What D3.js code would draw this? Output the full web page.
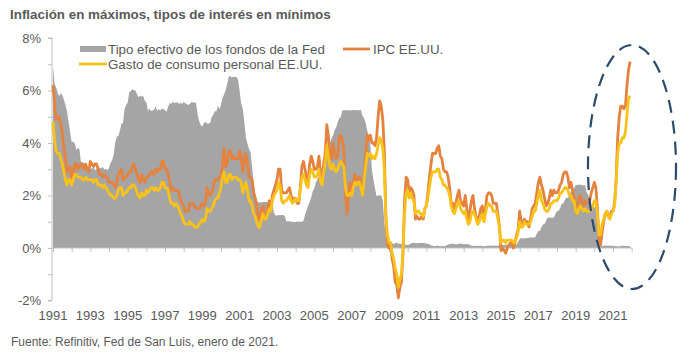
<!DOCTYPE html>
<html><head><meta charset="utf-8">
<script src="https://cdn.jsdelivr.net/npm/d3@7"></script>
<style>
html,body{margin:0;padding:0;background:#fff;}
svg{display:block;font-family:"Liberation Sans",Arial,sans-serif;}
</style></head><body>
<svg id="c" width="699" height="355"></svg>
<script>
const title = "Inflación en máximos, tipos de interés en mínimos";
const source = "Fuente: Refinitiv, Fed de San Luis, enero de 2021.";
const seriesNames = ["Tipo efectivo de los fondos de la Fed", "IPC EE.UU.", "Gasto de consumo personal EE.UU."];
const startYear = 1991;
const xTickLabels = [1991,1993,1995,1997,1999,2001,2003,2005,2007,2009,2011,2013,2015,2017,2019,2021];
const yTicks = [-2,-1,0,1,2,3,4,5,6,7,8];
const yTickLabels = [-2,0,2,4,6,8];

// Monthly values, Jan 1991 - Dec 2021 (%)
const fedFunds = [
6.91,6.25,6.12,5.91,5.78,5.90,5.82,5.66,5.45,5.21,4.81,4.43,
4.03,4.06,3.98,3.73,3.82,3.76,3.25,3.30,3.22,3.10,3.09,2.92,
3.02,3.03,3.07,2.96,3.00,3.04,3.06,3.03,3.09,2.99,3.02,2.96,
3.05,3.25,3.34,3.56,4.01,4.25,4.26,4.47,4.73,4.76,5.29,5.45,
5.53,5.92,5.98,6.05,6.01,6.00,5.85,5.74,5.80,5.76,5.80,5.60,
5.56,5.22,5.31,5.22,5.24,5.27,5.40,5.22,5.30,5.24,5.31,5.29,
5.25,5.19,5.39,5.51,5.50,5.56,5.52,5.54,5.54,5.50,5.52,5.50,
5.56,5.51,5.49,5.45,5.49,5.56,5.54,5.55,5.51,5.07,4.83,4.68,
4.63,4.76,4.81,4.74,4.74,4.76,4.99,5.07,5.22,5.20,5.42,5.30,
5.45,5.73,5.85,6.02,6.27,6.53,6.54,6.50,6.52,6.51,6.51,6.40,
5.98,5.49,5.31,4.80,4.21,3.97,3.77,3.65,3.07,2.49,2.09,1.82,
1.73,1.74,1.73,1.75,1.75,1.75,1.73,1.74,1.75,1.75,1.34,1.24,
1.24,1.26,1.25,1.26,1.26,1.22,1.01,1.03,1.01,1.01,1.00,0.98,
1.00,1.01,1.00,1.00,1.00,1.03,1.26,1.43,1.61,1.76,1.93,2.16,
2.28,2.50,2.63,2.79,3.00,3.04,3.26,3.50,3.62,3.78,4.00,4.16,
4.29,4.49,4.59,4.79,4.94,4.99,5.24,5.25,5.25,5.25,5.25,5.24,
5.25,5.26,5.26,5.25,5.25,5.25,5.26,5.02,4.94,4.76,4.49,4.24,
3.94,2.98,2.61,2.28,1.98,2.00,2.01,2.00,1.81,0.97,0.39,0.16,
0.15,0.22,0.18,0.15,0.18,0.21,0.16,0.16,0.15,0.12,0.12,0.12,
0.11,0.13,0.16,0.20,0.20,0.18,0.18,0.19,0.19,0.19,0.19,0.18,
0.17,0.16,0.14,0.10,0.09,0.09,0.07,0.10,0.08,0.07,0.08,0.07,
0.08,0.10,0.13,0.14,0.16,0.16,0.16,0.13,0.14,0.16,0.16,0.16,
0.14,0.15,0.14,0.15,0.11,0.09,0.09,0.08,0.08,0.09,0.08,0.09,
0.07,0.07,0.08,0.09,0.09,0.10,0.09,0.09,0.09,0.09,0.09,0.12,
0.11,0.11,0.11,0.12,0.12,0.13,0.13,0.14,0.14,0.12,0.12,0.24,
0.34,0.38,0.36,0.37,0.37,0.38,0.39,0.40,0.40,0.40,0.41,0.54,
0.65,0.66,0.79,0.90,0.91,1.04,1.15,1.16,1.15,1.15,1.16,1.30,
1.41,1.42,1.51,1.69,1.70,1.82,1.91,1.91,1.95,2.19,2.20,2.27,
2.40,2.40,2.41,2.42,2.39,2.38,2.40,2.13,2.04,1.83,1.55,1.55,
1.55,1.58,0.65,0.05,0.05,0.08,0.09,0.10,0.09,0.09,0.09,0.09,
0.09,0.08,0.07,0.07,0.06,0.08,0.10,0.09,0.08,0.08,0.08,0.08];

const cpi = [
6.2,5.5,4.9,4.9,5.0,4.7,4.4,3.8,3.4,2.9,3.0,3.1,
2.6,2.8,3.2,3.2,3.0,3.1,3.2,3.1,3.0,3.2,3.0,2.9,
3.3,3.2,3.1,3.2,3.2,3.0,2.8,2.8,2.7,2.8,2.7,2.7,
2.5,2.5,2.5,2.4,2.3,2.5,2.8,2.9,3.0,2.6,2.7,2.7,
2.8,2.9,2.9,3.1,3.2,3.0,2.8,2.6,2.5,2.8,2.6,2.5,
2.7,2.7,2.8,2.9,2.9,2.8,3.0,2.9,3.0,3.0,3.3,3.3,
3.0,3.0,2.8,2.5,2.2,2.3,2.2,2.2,2.2,2.1,1.8,1.7,
1.6,1.4,1.4,1.4,1.7,1.7,1.7,1.6,1.5,1.5,1.5,1.6,
1.7,1.6,1.7,2.3,2.1,2.0,2.1,2.3,2.6,2.6,2.6,2.7,
2.7,3.2,3.8,3.1,3.2,3.7,3.7,3.4,3.5,3.4,3.4,3.4,
3.7,3.5,2.9,3.3,3.6,3.2,2.7,2.7,2.6,2.1,1.9,1.6,
1.1,1.1,1.5,1.6,1.2,1.1,1.5,1.8,1.5,2.0,2.2,2.4,
2.6,3.0,3.0,2.2,2.1,2.1,2.1,2.2,2.3,2.0,1.8,1.9,
1.9,1.7,1.7,2.3,3.1,3.3,3.0,2.7,2.5,3.2,3.5,3.3,
3.0,3.0,3.1,3.5,2.8,2.5,3.2,3.6,4.7,4.3,3.5,3.4,
4.0,3.6,3.4,3.5,4.2,4.3,4.1,3.8,2.1,1.3,2.0,2.5,
2.1,2.4,2.8,2.6,2.7,2.7,2.4,2.0,2.8,3.5,4.3,4.1,
4.3,4.0,4.0,3.9,4.2,5.0,5.6,5.4,4.9,3.7,1.1,0.1,
0.0,0.2,-0.4,-0.7,-1.3,-1.4,-1.9,-1.5,-1.3,-0.2,1.8,2.7,
2.6,2.1,2.3,2.2,2.0,1.1,1.2,1.1,1.1,1.2,1.1,1.5,
1.6,2.1,2.7,3.2,3.6,3.6,3.6,3.8,3.9,3.5,3.4,3.0,
2.9,2.9,2.7,2.3,1.7,1.7,1.4,1.7,2.0,2.2,1.8,1.7,
1.6,2.0,1.5,1.1,1.4,1.8,2.0,1.5,1.2,1.0,1.2,1.5,
1.6,1.1,1.5,2.0,2.1,2.1,2.0,1.7,1.7,1.7,1.3,0.8,
-0.1,0.0,-0.1,-0.2,0.0,0.1,0.2,0.2,0.0,0.2,0.5,0.7,
1.4,1.0,0.9,1.1,1.0,1.0,0.8,1.1,1.5,1.6,1.7,2.1,
2.5,2.7,2.4,2.2,1.9,1.6,1.7,1.9,2.2,2.0,2.2,2.1,
2.1,2.2,2.4,2.5,2.8,2.9,2.9,2.7,2.3,2.5,2.2,1.9,
1.6,1.5,1.9,2.0,1.8,1.6,1.8,1.7,1.7,1.8,2.1,2.3,
2.5,2.3,1.5,0.3,0.1,0.6,1.0,1.3,1.4,1.2,1.2,1.4,
1.4,1.7,2.6,4.2,5.0,5.4,5.4,5.3,5.4,6.2,6.8,7.1];

const pce = [
4.8,4.1,3.7,3.6,3.6,3.4,3.2,2.9,2.6,2.4,2.6,2.6,
2.4,2.6,2.8,2.8,2.7,2.7,2.7,2.6,2.6,2.7,2.6,2.6,
2.6,2.6,2.5,2.6,2.6,2.4,2.4,2.4,2.3,2.4,2.3,2.2,
2.1,2.0,2.0,1.9,1.9,2.0,2.2,2.3,2.3,2.0,2.1,2.1,
2.2,2.3,2.3,2.4,2.4,2.3,2.1,2.0,1.9,2.1,2.0,2.0,
2.2,2.1,2.2,2.3,2.3,2.2,2.3,2.2,2.2,2.3,2.5,2.5,
2.3,2.3,2.2,1.9,1.7,1.7,1.6,1.7,1.6,1.5,1.3,1.2,
1.0,0.9,0.9,0.9,1.0,0.9,0.9,0.8,0.8,0.8,0.9,1.0,
1.1,1.0,1.1,1.5,1.4,1.4,1.5,1.6,1.8,1.9,1.9,2.1,
2.3,2.7,2.9,2.5,2.5,2.8,2.8,2.6,2.7,2.7,2.7,2.6,
2.6,2.5,2.1,2.3,2.5,2.2,1.8,1.8,1.6,1.3,1.2,1.0,
0.8,0.8,1.1,1.3,1.1,1.1,1.3,1.5,1.4,1.8,2.0,2.1,
2.2,2.5,2.4,1.8,1.7,1.8,1.8,1.9,2.0,1.8,1.7,1.8,
1.9,1.8,1.8,2.2,2.7,2.8,2.6,2.4,2.3,2.8,3.0,2.9,
2.7,2.7,2.8,3.0,2.5,2.4,2.9,3.2,3.9,3.5,3.1,3.0,
3.2,3.0,2.9,3.0,3.2,3.3,3.2,3.1,2.3,2.0,2.0,2.1,
2.0,2.3,2.5,2.4,2.5,2.5,2.3,2.0,2.6,3.1,3.6,3.5,
3.6,3.4,3.5,3.4,3.6,3.9,4.2,4.1,3.8,3.0,1.2,0.5,
0.2,0.2,-0.2,-0.4,-0.8,-1.0,-1.5,-1.2,-1.0,-0.1,1.3,2.1,
2.2,1.9,2.1,1.9,1.8,1.3,1.4,1.4,1.3,1.3,1.2,1.5,
1.6,1.9,2.3,2.7,2.9,2.9,2.9,3.0,3.0,2.7,2.6,2.4,
2.4,2.3,2.2,2.0,1.6,1.4,1.3,1.5,1.7,1.8,1.5,1.4,
1.3,1.4,1.1,0.9,1.0,1.3,1.4,1.3,1.1,0.9,1.0,1.2,
1.3,1.0,1.3,1.6,1.7,1.6,1.6,1.4,1.4,1.4,1.1,0.8,
0.2,0.3,0.3,0.2,0.3,0.3,0.3,0.3,0.2,0.2,0.4,0.6,
1.0,0.8,0.8,1.0,0.9,0.9,0.9,1.0,1.2,1.4,1.4,1.7,
2.0,2.2,1.8,1.7,1.5,1.4,1.4,1.5,1.7,1.7,1.8,1.8,
1.8,1.9,2.1,2.1,2.2,2.3,2.3,2.2,2.0,2.0,1.8,1.8,
1.4,1.3,1.5,1.6,1.5,1.4,1.5,1.4,1.4,1.4,1.5,1.6,
1.8,1.8,1.3,0.5,0.5,0.9,1.1,1.3,1.4,1.2,1.1,1.3,
1.4,1.6,2.5,3.6,4.0,4.0,4.2,4.2,4.4,5.1,5.7,5.8];

const colors = {fed:"#a5a5a5", cpi:"#e4823e", pce:"#f9c21a", text:"#595959", axis:"#bfbfbf", ellipse:"#2c4a6b"};

const svg = d3.select("#c");
const x = d3.scaleLinear().domain([1991, 2021]).range([53, 613]);
const y = d3.scaleLinear().domain([-2, 8]).range([300.5, 38]);
const t = i => startYear + i / 12;

// Title
svg.append("text").attr("x", 10).attr("y", 19).attr("font-size", 13.4).attr("font-weight", "bold")
  .attr("fill", colors.text).text(title);

// Area
const area = d3.area().x((d,i)=>x(t(i))).y0(y(0)).y1(d=>y(d));
svg.append("path").datum(fedFunds).attr("d", area).attr("fill", colors.fed);

// Y axis
const yAxis = d3.axisLeft(y).tickValues(yTicks).tickSize(4)
  .tickFormat(d => yTickLabels.includes(d) ? d + "%" : "");
const gy = svg.append("g").attr("transform", "translate(52,0)").call(yAxis);
gy.select(".domain").attr("stroke", colors.axis).attr("d", `M-4,${y(8)}H0V${y(-2)}H-4`);
gy.selectAll(".tick line").attr("stroke", colors.axis);
gy.selectAll(".tick text").attr("fill", colors.text).attr("font-size", 13)
  .attr("font-family", '"Liberation Sans",Arial,sans-serif').attr("x", -11);

// X axis along zero line
const xYears = d3.range(1991, 2023);
const xAxis = d3.axisBottom(x).tickValues(xYears).tickSize(4).tickFormat("");
const gx = svg.append("g").attr("transform", `translate(0,${y(0)})`).call(xAxis);
gx.select(".domain").attr("stroke", colors.axis).attr("d", `M52,0H632`);
gx.selectAll(".tick line").attr("stroke", colors.axis);
svg.append("g").selectAll("text").data(xTickLabels).join("text")
  .attr("x", d => x(d)).attr("y", 320).attr("text-anchor", "middle")
  .attr("font-size", 13).attr("fill", colors.text).text(d => d);

// Lines
const line = d3.line().x((d,i)=>x(t(i))).y(d=>y(d));
svg.append("path").datum(cpi).attr("d", line).attr("fill", "none")
  .attr("stroke", colors.cpi).attr("stroke-width", 2.8).attr("stroke-linejoin", "round");
svg.append("path").datum(pce).attr("d", line).attr("fill", "none")
  .attr("stroke", colors.pce).attr("stroke-width", 2.8).attr("stroke-linejoin", "round");

// Legend
svg.append("rect").attr("x", 80).attr("y", 46).attr("width", 26).attr("height", 6).attr("fill", colors.fed);
svg.append("text").attr("x", 108).attr("y", 53.5).attr("font-size", 13.3).attr("fill", colors.text).text(seriesNames[0]);
svg.append("line").attr("x1", 343).attr("x2", 370).attr("y1", 49).attr("y2", 49)
  .attr("stroke", colors.cpi).attr("stroke-width", 2.8);
svg.append("text").attr("x", 373).attr("y", 53.5).attr("font-size", 13.3).attr("fill", colors.text).text(seriesNames[1]);
svg.append("line").attr("x1", 79).attr("x2", 107).attr("y1", 64).attr("y2", 64)
  .attr("stroke", colors.pce).attr("stroke-width", 2.8);
svg.append("text").attr("x", 108).attr("y", 68.5).attr("font-size", 13.3).attr("fill", colors.text).text(seriesNames[2]);

// Ellipse highlight
svg.append("ellipse").attr("cx", 632).attr("cy", 167).attr("rx", 44).attr("ry", 122)
  .attr("fill", "none").attr("stroke", colors.ellipse).attr("stroke-width", 2.2)
  .attr("stroke-dasharray", "13,8");

// Source
svg.append("text").attr("x", 11).attr("y", 346).attr("font-size", 12).attr("fill", colors.text).text(source);
</script>
</body></html>
